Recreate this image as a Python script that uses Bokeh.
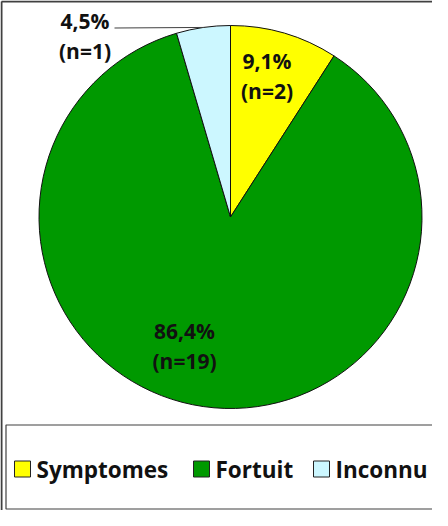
import math
from bokeh.plotting import figure
from bokeh.models import Range1d
from bokeh.core.properties import value
from bokeh.embed import file_html
from bokeh.resources import INLINE

# ---- data ----
categories = ["Symptomes", "Fortuit", "Inconnu"]
counts = [2, 19, 1]
percents = [9.1, 86.4, 4.5]
colors = ["#FFFF00", "#009900", "#CCF7FF"]

# ---- layout (page-pixel coordinates of the reference) ----
H = 526
def Y(py):
    return H - py

CX, CY, R = 238, 224.5, 191.5
label_pos = [(274.5, 68.5, 98.0), (192.0, 338.5, 368.0), (92.5, 28.5, 58.0)]
legend_sq_x = [30, 209, 329]
legend_y = 476.5

p = figure(width=432, height=510, output_backend="svg", toolbar_location=None,
           x_range=Range1d(8, 440), y_range=Range1d(8, 518),
           min_border=0, outline_line_color=None)
p.axis.visible = False
p.grid.visible = False
p.background_fill_color = "white"
p.border_fill_color = "white"

# frame lines (top and left)
p.line([9, 460], [Y(9), Y(9)], line_color="#404040", line_width=2)
p.line([9, 9], [Y(9), Y(540)], line_color="#404040", line_width=2)

# pie wedges
total = sum(counts)
cum = 0
starts, ends = [], []
for c in counts:
    a0 = math.pi / 2 - 2 * math.pi * cum / total
    cum += c
    a1 = math.pi / 2 - 2 * math.pi * cum / total
    starts.append(a0)
    ends.append(a1)

for s, e, col in zip(starts, ends, colors):
    p.wedge(x=CX, y=Y(CY), radius=R, start_angle=s, end_angle=e, direction="clock",
            fill_color=col, line_color="#111111", line_width=1)

# labels
for (lx, ly1, ly2), pct, n in zip(label_pos, percents, counts):
    t1 = f"{pct:.1f}%".replace(".", ",")
    t2 = f"(n={n})"
    p.text(x=[lx, lx], y=[Y(ly1), Y(ly2)], text=[t1, t2],
           text_font=value("Open Sans"), text_font_style="bold",
           text_font_size="21px", text_align="center", text_baseline="middle",
           text_color="#111111")

# leader line for the small slice
mid = (starts[2] + ends[2]) / 2
ex = CX + R * math.cos(mid)
ey = Y(CY) + R * math.sin(mid)
p.line([122, ex], [Y(35.5), ey], line_color="#404040", line_width=1)

# legend box
p.quad(left=13.5, right=460, top=Y(432.5), bottom=Y(516.5),
       fill_color="white", line_color="#404040", line_width=1.2)
for sx, col, cat in zip(legend_sq_x, colors, categories):
    p.rect(x=sx, y=Y(legend_y), width=16, height=16, fill_color=col,
           line_color="#222222", line_width=1)
    p.text(x=[sx + 14], y=[Y(legend_y)], text=[cat],
           text_font=value("Open Sans"), text_font_style="bold",
           text_font_size="22.5px", text_align="left", text_baseline="middle",
           text_color="#111111")

open("out.html", "w").write(file_html(p, INLINE))
